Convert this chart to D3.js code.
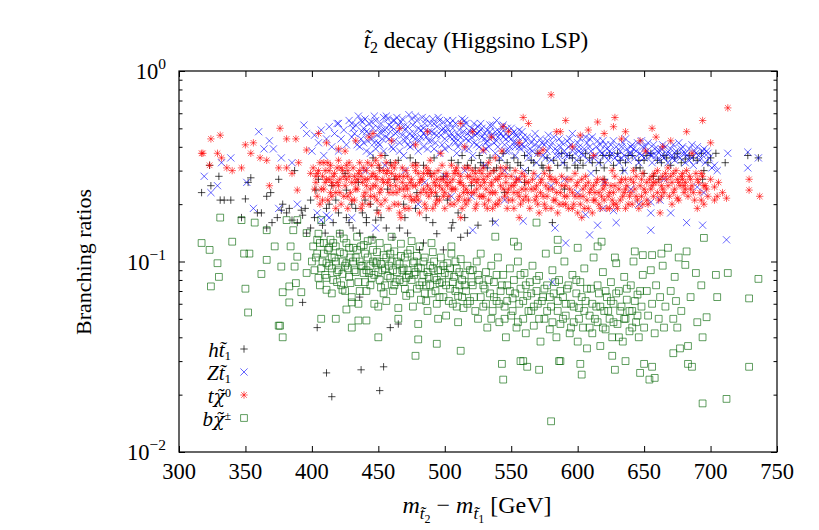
<!DOCTYPE html>
<html><head><meta charset="utf-8">
<script src="https://cdn.jsdelivr.net/npm/d3@7"></script>
<style>body{margin:0;background:#fff}svg{display:block}</style>
</head><body><svg id="c" width="819" height="530"></svg>
<script>
const xTicks=[300,350,400,450,500,550,600,650,700,750];
const yMajor=[0.01,0.1,1];
const yExp=["−2","−1","0"];

// h t1 (black +)
const hT1=[[323,.32],[317,.23],[324,.25],[331,.21],[334,.21],[339,.21],[330,.28],[350,.213],[354,.275],[352,.26],[362,.18],[366,.22],[369,.23],[375,.27],[387,.30],[377,.186],[383,.19],[392,.186],[399,.21],[403,.237],[405,.27],[411,.19],[418,.21],[426,.17],[430,.20],[441,.17],[448,.165],[426,.237],[366,.15],[389,.16],
[347,.17],[359,.18],[370,.16],[374,.17],[381,.18],[385,.165],[393,.175],[399,.15],[396,.141],[408,.155],[410,.141],[416,.16],[421,.141],[431,.15],[436,.141],[441,.16],[446,.134],[461,.134],[466,.15],[472,.141],[484,.125],[491,.16],[499,.115],[506,.16],[512,.134],[481,.115],[517,.141],[536,.163],[581,.16],
[393,.061],[404,.045],[436,.065],[459,.045],[465,.047],[411,.026],[415,.0195],[437,.027],[454,.028],[451,.021],
[520,.34],[523,.31],[526,.36],[529,.32],[534,.35],[537,.30],[541,.34],[544,.37],[549,.31],[552,.35],[555,.33],[560,.36],[563,.30],[565,.34],[570,.37],[573,.32],[577,.35],[579,.30],[582,.34],[588,.37],[590,.33],[594,.36],[598,.32],[606,.37],[611,.33],[614,.30],[619,.36],[627,.32],[630,.37],[636,.33],[641,.36],[644,.31],[650,.34],[655,.37],[663,.33],[665,.36],[670,.32],[673,.35],[678,.33],[684,.36],[690,.34],[693,.37],[698,.33],[700,.35],[704,.37],[711,.33],[728,.36],[736,.35],[695,.30],[694,.27],
[484,.32],[474,.35],[489,.29],[499,.28],[451,.31],[459,.33],[446,.35],[510,.33],[517,.32],[527,.33],[532,.31],[539,.31],[547,.33],[557,.32],[567,.33],[574,.31],[585,.32],[592,.31],[494,.22],[502,.21],[479,.23],[469,.20],[457,.24],[449,.186],[510,.18],[435,.26],[425,.29],[415,.25],[440,.21],[462,.27],[520,.25],[545,.23],[560,.26],[590,.24],[620,.27],[650,.29],[600,.31],
[596,.35],[602,.34],[609,.35],[617,.33],[624,.36],[632,.34],[638,.36],[646,.34],[652,.36],[660,.34],[667,.35],[675,.37],[681,.345],[687,.35],[634,.30],[647,.31],[620,.31],[604,.32],[657,.28],[661,.27],
[378,.2],[395,.19],[402,.17],[413,.2],[420,.18],[428,.16],[433,.19],[438,.18],[444,.2],[452,.17],[456,.15],[470,.17],[478,.19],[486,.17],[494,.14],[505,.15],[515,.17],[525,.155],[455,.36],[465,.34],[478,.33],[492,.35],[505,.34],[513,.36]];

// Z t1 (blue x)
const zT1=[[430,.45],[433,.52],[436,.40],[438,.48],[440,.56],[442,.43],[444,.37],[446,.50],[447,.58],[449,.46],[451,.41],[452,.53],[454,.38],[455,.49],[457,.56],[458,.44],[460,.51],[461,.39],[463,.47],[464,.57],[466,.42],[467,.54],[469,.36],[470,.49],[471,.45],[473,.59],[474,.40],[476,.52],[477,.47],[479,.55],[480,.38],[481,.43],[483,.57],[484,.50],[486,.45],[487,.39],[489,.53],[490,.48],[491,.56],[493,.42],[494,.51],[496,.37],[497,.46],[499,.54],[500,.44],[502,.50],[503,.40],[505,.47],[506,.55],[508,.42],[509,.37],[511,.49],[512,.45],[514,.52],[515,.39],[517,.47],[518,.43],[520,.50],[521,.36],[523,.46],[524,.41],[526,.48],[527,.53],[529,.38],[530,.44],[532,.49],[533,.40],[535,.46],[536,.52],[538,.37],[539,.43],[541,.48],[542,.35],[544,.45],[545,.41],[547,.50],[548,.38],[550,.44],[551,.47],[553,.36],[554,.42],[556,.49],[557,.39],[559,.45],
[431,.50],[435,.58],[439,.42],[443,.47],[445,.54],[448,.39],[450,.50],[453,.44],[456,.58],[459,.48],[462,.43],[465,.52],[468,.46],[472,.41],[475,.56],[478,.44],[482,.49],[485,.53],[488,.43],[492,.47],[495,.57],[498,.41],[501,.48],[504,.53],[507,.45],[510,.40],[513,.56],[516,.44],[519,.48],[522,.42],[525,.51],[528,.45],[531,.39],[534,.48],[537,.42],[540,.45],[543,.51],[546,.44],[549,.40],[552,.48],[555,.45],[558,.41],
[400,.38],[402,.46],[405,.42],[407,.49],[409,.36],[411,.44],[413,.51],[415,.40],[417,.47],[419,.53],[420,.38],[422,.44],[424,.49],[426,.41],[428,.55],[420,.53],[430,.53],[438,.54],[441,.48],[394,.52],[396,.47],[360,.48],[368,.43],[339,.35],[332,.33],[319,.28],[329,.25],[324,.23],[351,.26],[356,.19],[375,.19],[364,.39],[371,.39],[377,.35],[385,.33],[413,.17],[407,.165],[389,.20],[404,.18],[411,.175],[430,.17],[448,.15],[521,.146],
[560,.40],[562,.45],[563,.35],[565,.42],[566,.38],[568,.47],[569,.33],[571,.40],[572,.44],[574,.36],[575,.41],[577,.38],[578,.46],[580,.34],[581,.42],[583,.39],[584,.36],[586,.44],[587,.40],[589,.33],[590,.38],[592,.43],[593,.36],[595,.41],[596,.47],[598,.37],[599,.34],[601,.40],[602,.44],[604,.36],[605,.39],[607,.42],[608,.34],[610,.38],[611,.45],[613,.36],[614,.40],[616,.33],[617,.38],[619,.43],[620,.36],[622,.39],[623,.34],[625,.41],[626,.37],[628,.35],[629,.40],[631,.33],[632,.38],[634,.42],[635,.36],[637,.39],[638,.34],[640,.37],[641,.41],[643,.35],[644,.38],[646,.33],[647,.37],[649,.40],[650,.35],[652,.38],[653,.42],[655,.36],[656,.33],[658,.39],[659,.36],[661,.34],[662,.38],[664,.41],[665,.35],[667,.37],[668,.33],[670,.39],[671,.36],[673,.34],[674,.38],[676,.42],[677,.35],[679,.37],[681,.33],[682,.36],[684,.39],[686,.35],[687,.32],[689,.37],[690,.40],[692,.34],[694,.36],[696,.33],[697,.38],[699,.35],[701,.31],[703,.32],[705,.30],[713,.37],[728,.375],[728,.31],[736,.35],[690,.246],[695,.23],
[538,.16],[559,.163],[583,.15],[591,.125],[609,.138],[615,.155],[629,.16],[655,.146],[655,.18],[670,.18],[682,.16],[694,.155],[712,.13],[581,.078],[646,.2],[627,.185],[619,.19],[606,.176],[655,.205],[662,.21],[580,.25],[600,.23],[570,.28],[590,.27],[620,.26],[640,.24],[665,.27],[610,.29],[635,.3],[555,.27],[545,.3],[530,.32],[515,.3],[500,.28],[485,.26],[470,.3],[455,.32],[440,.3],[520,.22],[545,.21],[505,.22],[480,.2],[560,.3],
[432,.47],[434,.41],[437,.55],[439,.50],[441,.38],[443,.53],[445,.44],[448,.55],[450,.42],[452,.47],[454,.57],[456,.45],[458,.52],[460,.40],[462,.55],[464,.48],[466,.38],[468,.56],[470,.43],[472,.51],[474,.47],[476,.41],[478,.58],[480,.50],[482,.45],[484,.40],[486,.56],[488,.48],[490,.43],[492,.53],[494,.46],[496,.55],[498,.49],[500,.39],[502,.55],[504,.45],[506,.50],[508,.53],[510,.46],[512,.42],[514,.48],[516,.53],[518,.39],[520,.45],[522,.53],[524,.47],[526,.40],[528,.50],[530,.47],[532,.43],[534,.52],[536,.45],[538,.48],[540,.40],[542,.47],[544,.52],[546,.38],[548,.45],[550,.50],[552,.42],[554,.46],[556,.40],[558,.48],
[561,.43],[564,.39],[567,.44],[570,.37],[573,.42],[576,.35],[579,.40],[582,.45],[585,.38],[588,.42],[591,.36],[594,.44],[597,.39],[600,.42],[603,.37],[606,.45],[609,.40],[612,.35],[615,.43],[618,.37],[621,.41],[624,.38],[627,.43],[630,.36],[633,.40],[636,.44],[639,.37],[642,.39],[645,.42],[648,.36],[651,.40],[654,.37],[657,.41],[660,.38],[663,.36],[666,.40],[669,.37],[672,.41],[675,.36],[678,.39],[681,.37],[684,.34],[688,.38],[691,.36],[695,.39],[698,.37],
[437,.44],[453,.49],[447,.42],[461,.55],[476,.45],[469,.51],[484,.47],[499,.5],[492,.39],[507,.43],[522,.49],[515,.55],[531,.42],[546,.47],[539,.55],[553,.4],[568,.41],[563,.37],[577,.43],[593,.4],[586,.36],[601,.38],[617,.41],[609,.44],[624,.36],[640,.4],[633,.35],[648,.43],[663,.39],[656,.36],[671,.35],[686,.41],[679,.4],[694,.38]];

// t chi0 (red *)
const tChi0=[[324,.44],[331,.46],[318,.37],[323,.32],[329,.37],[332,.35],[336,.31],[340,.30],[347,.31],[350,.41],[356,.42],[354,.37],[361,.35],[366,.34],[376,.50],[381,.44],[388,.44],[368,.25],[375,.31],[381,.31],[389,.237],[385,.29],[396,.385],[390,.33],[399,.29],[317,.37],
[405,.47],[411,.42],[420,.39],[433,.43],[443,.45],[446,.47],[466,.50],[487,.48],[512,.53],[521,.48],[544,.51],[548,.48],[559,.57],[563,.53],[580,.75],[587,.48],[591,.55],[584,.48],[543,.38],[574,.385],[529,.385],[615,.54],[628,.57],[627,.51],[636,.48],[608,.49],[602,.46],[656,.50],[659,.45],[647,.43],[670,.43],[682,.48],[694,.55],[713,.64],[729,.27],[729,.237],[737,.22],[712,.215],[703,.246],[705,.22],[695,.20],[690,.19],[681,.24],[696,.25],[675,.215],
[401,.31],[403,.26],[404,.22],[406,.33],[408,.28],[409,.24],[410,.30],[412,.21],[413,.27],[414,.32],[416,.25],[417,.29],[418,.23],[420,.34],[421,.27],[422,.20],[423,.30],[425,.25],[426,.32],[427,.22],[428,.28],[430,.26],[431,.31],[432,.21],[433,.24],[435,.29],[436,.33],[437,.19],[438,.26],[440,.23],[441,.30],[442,.27],[443,.20],[445,.32],[446,.25],[447,.22],[448,.28],[450,.18],[451,.30],[452,.24],[453,.27],[455,.21],[456,.33],[457,.26],[458,.19],[460,.29],[461,.23],[462,.31],[463,.25],[465,.20],[466,.28],[467,.17],[468,.26],[470,.22],[471,.30],[472,.24],[473,.19],[475,.27],[476,.32],[477,.21],[478,.25],[480,.29],[481,.18],[482,.23],[483,.27],[485,.20],[486,.31],[487,.25],[488,.22],[490,.28],[491,.19],[492,.26],[493,.23],[495,.30],[496,.21],[497,.27],[498,.24],[500,.19],[501,.29],[502,.25],[503,.22],[505,.32],[506,.27],[507,.20],[508,.24],[510,.29],[511,.22],[512,.26],[513,.19],[515,.31],[516,.24],[517,.28],[518,.21],[520,.26],[521,.30],[522,.23],[523,.19],[525,.27],[526,.22],[527,.25],[528,.29],[530,.20],[531,.24],[532,.28],[533,.21],[535,.26],[536,.19],[537,.30],[538,.23],[540,.27],[541,.21],[542,.25],[543,.29],[545,.22],[546,.26],[547,.19],[548,.24],[550,.28],[551,.21],[552,.25],[553,.30],[555,.23],[556,.27],[557,.20],[558,.24],
[404,.29],[407,.24],[411,.27],[415,.22],[419,.31],[424,.28],[429,.23],[434,.27],[439,.31],[444,.24],[449,.27],[454,.30],[459,.25],[464,.23],[469,.28],[474,.26],[479,.22],[484,.29],[489,.24],[494,.27],[499,.22],[504,.26],[509,.31],[514,.23],[519,.28],[524,.24],[529,.27],[534,.23],
[560,.28],[561,.22],[563,.26],[564,.19],[565,.24],[567,.29],[568,.21],[569,.25],[571,.18],[572,.23],[573,.27],[575,.20],[576,.25],[577,.22],[579,.28],[580,.19],[581,.24],[583,.21],[584,.26],[585,.18],[587,.23],[588,.28],[589,.20],[591,.25],[592,.22],[593,.19],[595,.27],[596,.23],[597,.20],[599,.25],[600,.18],[601,.22],[603,.27],[604,.24],[605,.19],[607,.21],[608,.26],[609,.23],[611,.18],[612,.25],[613,.21],[615,.27],[616,.23],[617,.19],[619,.24],[620,.21],[621,.26],[623,.22],[624,.19],[625,.25],[627,.23],[628,.28],[629,.20],[631,.24],[632,.21],[633,.27],[635,.23],[636,.19],[637,.25],[639,.22],[640,.27],[641,.20],[643,.24],[644,.28],[645,.21],[647,.25],[648,.22],[649,.29],[651,.23],[652,.26],[653,.20],[655,.24],[656,.28],[657,.22],[659,.26],[660,.30],[661,.21],[663,.25],[664,.28],[665,.23],[667,.27],[668,.31],[669,.22],[671,.26],[672,.29],[673,.24],[675,.27],[676,.21],[677,.25],[679,.29],[680,.23],[681,.26],[683,.22],[684,.28],[686,.25],[688,.21],[690,.27],[692,.23],[693,.29],[695,.25],[698,.22],[700,.27],[703,.21],[706,.26],[709,.23],
[425,.38],[452,.36],[478,.41],[497,.37],[515,.40],[538,.35],[556,.42],[571,.37],[596,.40],[612,.36],[633,.44],[651,.38],[664,.40],[686,.37],[700,.42],[460,.43],[535,.45],[620,.47],
[402,.24],[405,.30],[408,.21],[410,.26],[412,.33],[414,.23],[416,.28],[418,.19],[420,.25],[422,.31],[424,.22],[426,.27],[428,.33],[430,.21],[432,.28],[434,.24],[436,.30],[438,.20],[440,.27],[442,.33],[444,.22],[446,.29],[448,.25],[450,.32],[452,.20],[454,.26],[456,.29],[458,.23],[460,.32],[462,.20],[464,.27],[466,.24],[468,.31],[470,.19],[472,.28],[474,.22],[476,.25],[478,.30],[480,.21],[482,.27],[484,.24],[486,.19],[488,.30],[490,.23],[492,.29],[494,.21],[496,.25],[498,.32],[500,.23],[502,.28],[504,.20],[506,.24],[508,.30],[510,.21],[512,.28],[514,.25],[516,.20],[518,.31],[520,.23],[522,.27],[524,.20],[526,.30],[528,.22],[530,.26],[532,.19],[534,.29],[536,.23],[538,.27],[540,.20],[542,.31],[544,.24],[546,.28],[548,.21],[550,.25],[552,.19],[554,.27],[556,.22],[558,.29],
[403,.28],[409,.33],[415,.26],[421,.23],[427,.30],[433,.26],[439,.22],[445,.28],[451,.23],[457,.30],[463,.28],[469,.24],[475,.21],[481,.26],[487,.29],[493,.25],[499,.27],[505,.24],[511,.26],[517,.23],[523,.29],[529,.22],[535,.25],[541,.28],[547,.23],[553,.26],[559,.21],
[561,.26],[563,.21],[566,.27],[568,.24],[570,.20],[572,.26],[574,.22],[576,.19],[578,.24],[580,.27],[582,.21],[584,.23],[586,.20],[588,.25],[590,.22],[592,.27],[594,.24],[596,.19],[598,.22],[600,.26],[602,.20],[604,.22],[606,.25],[608,.19],[610,.24],[612,.21],[614,.26],[616,.20],[618,.22],[620,.25],[622,.19],[624,.23],[626,.21],[628,.25],[630,.19],[632,.26],[634,.22],[636,.24],[638,.20],[640,.23],[642,.26],[644,.22],[646,.19],[648,.27],[650,.24],[652,.21],[654,.27],[656,.25],[658,.29],[660,.23],[662,.27],[664,.24],[666,.29],[668,.25],[670,.28],[672,.23],[674,.30],[676,.26],[678,.28],[680,.25],[682,.30],[685,.27],[687,.23],[689,.29],[691,.26],[694,.28],[697,.24],
[406,.2],[419,.26],[413,.3],[427,.19],[441,.25],[437,.28],[449,.21],[463,.33],[458,.27],[471,.25],[486,.23],[479,.32],[493,.2],[507,.29],[501,.26],[515,.21],[529,.31],[524,.26],[538,.2],[552,.23],[546,.31],[561,.24],[575,.29],[569,.22],[583,.27],[598,.29],[591,.2],[606,.28],[619,.27],[613,.23],[627,.2],[642,.3],[636,.27],[649,.2],[663,.22],[657,.26],[671,.2],[685,.24],[679,.27],[693,.21],[448,.34],[466,.18],[489,.34],[512,.17],[533,.33],[556,.17],[578,.31],[603,.17],[626,.3],[662,.18]];

// b chi+- (green squares)
const bChiPm=[[317,.125],[323,.115],[329,.098],[330,.083],[324,.074],[340,.127],[349,.11],[353,.11],[350,.072],[352,.054],[375,.046],[362,.086],[366,.102],[372,.12],[377,.094],[378,.069],[383,.061],[383,.074],[388,.077],[392,.069],[387,.094],[389,.106],[384,.12],[381,.165],[407,.165],[396,.141],[404,.13],[400,.10],[396,.087],[405,.082],[411,.071],[407,.05],[418,.05],[426,.056],[430,.045],[435,.049],[423,.071],[415,.068],[430,.061],[441,.049],[331,.17],[347,.165],[357,.16],[366,.146],[386,.146],[389,.165],[376,.046],
[401,.12],[402,.09],[404,.11],[405,.14],[406,.075],[408,.10],[409,.125],[410,.085],[412,.115],[413,.095],[414,.13],[416,.08],[417,.105],[418,.12],[420,.09],[421,.14],[422,.075],[424,.11],[425,.095],[426,.125],[428,.083],[429,.105],[430,.065],[431,.118],[432,.09],[434,.135],[435,.078],[436,.10],[437,.12],[439,.087],[440,.11],[441,.07],[442,.128],[444,.095],[445,.082],[446,.115],[447,.06],[449,.1],[450,.088],[451,.125],[452,.073],[454,.108],[455,.092],[456,.062],[457,.118],[459,.082],[460,.1],[461,.07],[462,.113],[464,.088],[465,.057],[466,.097],[467,.124],[469,.078],[470,.105],[471,.066],[472,.09],[474,.115],[475,.08],[476,.058],[477,.1],[479,.072],[480,.093],[481,.12],[482,.063],[484,.085],[485,.105],[486,.075],[487,.055],[489,.095],[490,.068],[491,.112],[492,.082],[494,.06],[495,.09],[496,.077],[497,.105],[499,.065],[500,.087],[501,.052],[502,.098],[504,.072],[505,.11],[506,.06],[507,.083],[509,.092],[510,.066],[511,.075],[512,.103],[514,.057],[515,.085],[516,.07],[517,.095],[519,.062],[520,.078],
[411,.098],[415,.105],[419,.088],[423,.1],[427,.092],[433,.105],[438,.095],[443,.087],[448,.098],[453,.09],[458,.095],[463,.078],[468,.09],[473,.085],[478,.088],[483,.078],[488,.083],[493,.07],[498,.078],[503,.085],[508,.07],[513,.08],[440,.078],[455,.075],[470,.072],[485,.068],[445,.13],[460,.135],[475,.128],[490,.125],[505,.12],[425,.07],[435,.06],[450,.058],[465,.05],[480,.047],[495,.05],[510,.048],[378,.04],[450,.04],[480,.039],[478,.032],[494,.037],[512,.034],
[521,.09],[522,.065],[524,.1],[525,.05],[526,.08],[527,.11],[529,.058],[530,.072],[531,.088],[532,.045],[534,.068],[535,.095],[536,.055],[537,.078],[539,.062],[540,.105],[541,.048],[542,.07],[544,.085],[545,.058],[546,.04],[547,.075],[549,.092],[550,.052],[551,.064],[552,.08],[554,.045],[555,.1],[556,.06],[557,.072],[559,.05],[560,.087],[561,.042],[562,.066],[564,.078],[565,.055],[566,.095],[567,.046],[569,.07],[570,.06],[571,.084],[572,.038],[574,.065],[575,.05],[576,.11],[577,.075],[579,.044],[580,.058],[581,.09],[582,.068],[584,.04],[585,.055],[586,.08],[587,.047],[589,.065],[590,.1],[591,.052],[592,.072],[594,.042],[595,.06],[596,.085],[597,.048],[599,.068],[600,.038],[601,.057],[602,.078],[604,.045],[605,.092],[606,.062],[607,.035],[609,.052],[610,.072],[611,.042],[612,.105],[614,.058],[615,.048],[616,.068],[617,.036],[619,.088],[620,.055],[621,.044],[622,.065],[624,.05],[625,.078],[626,.04],[627,.06],[629,.098],[630,.047],[631,.07],[632,.055],[634,.038],[635,.083],[636,.05],[637,.063],[639,.043],[640,.075],[641,.055],[642,.1],[644,.048],[645,.067],[646,.04],[648,.058],[649,.085],[650,.045],[652,.07],[653,.052],[655,.09],[656,.06],[658,.042],[659,.075],[661,.05],[662,.065],[664,.095],[665,.045],[666,.058],[668,.118],[670,.07],[672,.05],[673,.083],[674,.062],[676,.105],[678,.055],
[682,.113],[695,.133],[681,.096],[689,.087],[704,.085],[713,.087],[736,.081],[729,.064],[705,.065],[693,.075],[697,.051],[694,.04],[690,.048],[685,.065],[675,.045],[683,.036],[677,.035],[672,.033],[683,.029],[686,.028],[729,.028],[694,.018],[712,.019],[658,.0245],[654,.024],[647,.026],[656,.028],[650,.029],[628,.027],[603,.0255],[602,.029],[636,.03],[626,.032],[580,.0145],[543,.029],[544,.024],[571,.027],[557,.03],[586,.03],[559,.03],[562,.028],[587,.03],
[569,.16],[552,.127],[555,.12],[585,.13],[585,.115],[618,.127],[615,.12],[643,.113],[649,.108],[656,.108],[663,.11],[538,.135],[600,.118],[628,.105],
[403,.105],[406,.125],[407,.092],[409,.11],[411,.082],[413,.118],[415,.092],[416,.125],[418,.1],[419,.078],[421,.112],[423,.086],[424,.132],[426,.098],[428,.118],[429,.077],[431,.1],[433,.088],[434,.115],[436,.07],[437,.095],[439,.122],[441,.09],[442,.105],[444,.075],[446,.1],[447,.085],[449,.112],[451,.08],[452,.097],[454,.068],[456,.105],[457,.084],[459,.11],[461,.09],[462,.075],[464,.1],[466,.08],[467,.107],[469,.092],[471,.082],[472,.11],[474,.068],[476,.098],[477,.085],[479,.107],[481,.075],[482,.092],[484,.1],[486,.062],[487,.088],[489,.075],[491,.092],[492,.1],[494,.08],[496,.065],[497,.09],[499,.095],[501,.075],[503,.062],[504,.092],[506,.078],[508,.1],[509,.058],[511,.088],[513,.065],[515,.075],[517,.06],[519,.09],
[521,.075],[523,.055],[525,.085],[527,.065],[529,.075],[531,.06],[533,.08],[535,.05],[537,.065],[539,.085],[541,.06],[543,.075],[545,.05],[547,.062],[549,.07],[551,.055],[553,.068],[555,.048],[557,.085],[559,.062],[561,.075],[563,.055],[565,.068],[567,.058],[569,.08],[571,.05],[573,.062],[575,.072],[577,.055],[579,.065],[581,.048],[583,.078],[585,.062],[587,.07],[589,.05],[591,.06],[593,.075],[595,.045],[597,.058],[599,.08],[601,.05],[603,.065],[605,.055],[607,.072],[609,.045],[611,.06],[613,.05],[615,.075],[617,.058],[619,.045],[621,.07],[623,.055],[625,.062],[627,.048],[629,.068],[631,.04],[633,.058],[635,.05],[637,.072],[639,.055],[641,.045],[643,.062],[645,.052],[647,.07]];

const FONT='"Liberation Serif","DejaVu Serif",serif';
const svg=d3.select("#c");
const L=179,R=777,T=71,B=452;
const x=d3.scaleLinear().domain([300,750]).range([L,R]);
const y=d3.scaleLog().domain([0.01,1]).range([B,T]);

const shapes={
  plus:"M-3.7,0H3.7M0,-3.7V3.7",
  cross:"M-3.6,-3.6L3.6,3.6M-3.6,3.6L3.6,-3.6",
  star:"M-3.7,0H3.7M0,-3.7V3.7M-2.8,-2.8L2.8,2.8M-2.8,2.8L2.8,-2.8",
  square:"M-3.4,-3.4H3.4V3.4H-3.4Z"
};
const series=[
  {data:hT1,shape:"plus",color:"#000000",op:0.7},
  {data:zT1,shape:"cross",color:"#0000ff",op:0.6},
  {data:tChi0,shape:"star",color:"#ff0000",op:0.6},
  {data:bChiPm,shape:"square",color:"#006400",op:0.62}
];

const gp=svg.append("g");
series.forEach(s=>{
  gp.append("g").selectAll("path").data(s.data).join("path")
    .attr("transform",d=>`translate(${x(d[0]).toFixed(1)},${y(d[1]).toFixed(1)})`)
    .attr("d",shapes[s.shape]).attr("fill","none")
    .attr("stroke",s.color).attr("stroke-opacity",s.op).attr("stroke-width",1);
});

// axes
const minor=y.ticks().filter(v=>!yMajor.some(m=>Math.abs(m-v)<1e-9));
function styleAx(g){g.select(".domain").remove();g.selectAll("line").attr("stroke","#000").attr("stroke-width",1);g.selectAll("text").remove();}
svg.append("g").attr("transform",`translate(0,${B})`).call(d3.axisBottom(x).tickValues(xTicks).tickSize(-6)).call(styleAx);
svg.append("g").attr("transform",`translate(0,${T})`).call(d3.axisTop(x).tickValues(xTicks).tickSize(-6)).call(styleAx);
svg.append("g").attr("transform",`translate(${L},0)`).call(d3.axisLeft(y).tickValues(yMajor).tickSize(-6)).call(styleAx);
svg.append("g").attr("transform",`translate(${L},0)`).call(d3.axisLeft(y).tickValues(minor).tickSize(-3.5)).call(styleAx);
svg.append("g").attr("transform",`translate(${R},0)`).call(d3.axisRight(y).tickValues(yMajor).tickSize(-6)).call(styleAx);
svg.append("g").attr("transform",`translate(${R},0)`).call(d3.axisRight(y).tickValues(minor).tickSize(-3.5)).call(styleAx);
svg.append("rect").attr("x",L).attr("y",T).attr("width",R-L).attr("height",B-T).attr("fill","none").attr("stroke","#000").attr("stroke-width",1.2);

// tick labels
svg.append("g").selectAll("text").data(xTicks).join("text")
  .attr("x",d=>x(d)).attr("y",B+27).attr("text-anchor","middle")
  .attr("font-family",FONT).attr("font-size",22.5).text(d=>d);
const yl=svg.append("g").selectAll("text").data(yMajor).join("text")
  .attr("x",L-13).attr("y",d=>y(d)+8).attr("text-anchor","end")
  .attr("font-family",FONT).attr("font-size",22.5);
yl.append("tspan").text("10");
yl.append("tspan").attr("dy",-10).attr("font-size",15.5).text((d,i)=>yExp[i]);

// rich text helper
function rich(x0,y0,segs,opt){
  const t=svg.append("text").attr("x",x0).attr("y",y0).attr("font-family",FONT)
    .attr("font-size",opt.size).attr("text-anchor",opt.anchor||"start");
  if(opt.rotate) t.attr("transform",`rotate(-90,${x0},${y0})`);
  let shift=0;
  segs.forEach(s=>{
    const sp=t.append("tspan").text(s.t);
    const target=s.sub? s.sub : 0;
    if(target!==shift){sp.attr("dy",target-shift);shift=target;}
    if(s.i) sp.attr("font-style","italic");
    if(s.fs) sp.attr("font-size",s.fs);
    if(s.ff) sp.attr("font-family",s.ff);
  });
  return t;
}
// title
rich(476,48,[{t:"t\u0303",i:true},{t:"2",sub:5,fs:16},{t:" decay (Higgsino LSP)"}],{size:23,anchor:"middle"});
// x label
rich(477,513,[{t:"m",i:true},{t:"t\u0303",i:true,sub:6,fs:17},{t:"2",sub:10,fs:12},{t:" − "},{t:"m",i:true},{t:"t\u0303",i:true,sub:6,fs:17},{t:"1",sub:10,fs:12},{t:" [GeV]"}],{size:24,anchor:"middle"});
// y label
rich(91,262,[{t:"Branching ratios"}],{size:22,anchor:"middle",rotate:true});

// legend
const GR='"DejaVu Serif",serif';
const legRows=[
  {segs:[{t:"h",i:true},{t:"t\u0303",i:true},{t:"1",sub:3,fs:13}],s:0},
  {segs:[{t:"Z",i:true},{t:"t\u0303",i:true},{t:"1",sub:3,fs:13}],s:1},
  {segs:[{t:"t",i:true},{t:"χ\u0303",i:true,ff:GR,fs:19},{t:"0",sub:-6,fs:12}],s:2},
  {segs:[{t:"b",i:true},{t:"χ\u0303",i:true,ff:GR,fs:19},{t:"±",sub:-6,fs:12}],s:3}
];
const legY=[357,380,403,426];
legRows.forEach((r,i)=>{
  rich(231,legY[i],r.segs,{size:21,anchor:"end"});
  const s=series[r.s];
  svg.append("path").attr("transform",`translate(244,${legY[i]-8})`).attr("d",shapes[s.shape])
    .attr("fill","none").attr("stroke",s.color).attr("stroke-opacity",s.op);
});
</script></body></html>
